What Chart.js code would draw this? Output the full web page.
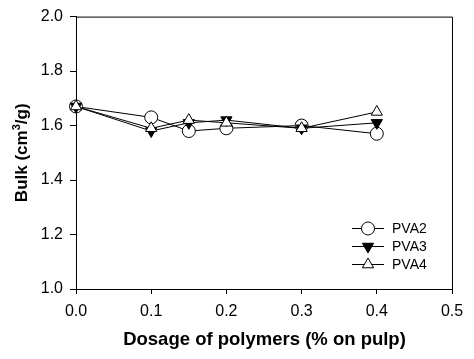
<!DOCTYPE html>
<html>
<head>
<meta charset="utf-8">
<script src="https://cdn.jsdelivr.net/npm/chart.js@4/dist/chart.umd.min.js"></script>
<style>
html,body{margin:0;padding:0;background:#fff;}
#wrap{width:474px;height:359px;}
</style>
</head>
<body>
<div id="wrap"><canvas id="c" width="474" height="359"></canvas></div>
<script>
const dosage = [0, 0.1, 0.15, 0.2, 0.3, 0.4];
const pva2 = [1.67, 1.63, 1.58, 1.59, 1.60, 1.57];
const pva3 = [1.67, 1.58, 1.61, 1.62, 1.59, 1.61];
const pva4 = [1.67, 1.59, 1.62, 1.61, 1.59, 1.65];
const seriesLabels = ['PVA2', 'PVA3', 'PVA4'];
const xTitle = 'Dosage of polymers (% on pulp)';
const yTitleParts = ['Bulk (cm', '3', '/g)'];

const pts = arr => dosage.map((x, i) => ({x: x, y: arr[i]}));
const FONT = 'Arial, "Liberation Sans", sans-serif';

const styles = [
  {pointStyle: 'circle', bg: '#ffffff', rot: 0, r: 6.5},
  {pointStyle: 'triangle', bg: '#000000', rot: 180, r: 6.5},
  {pointStyle: 'triangle', bg: '#ffffff', rot: 0, r: 6.5}
];
const series = [pva2, pva3, pva4];

const datasets = series.map((s, i) => ({
  label: seriesLabels[i],
  data: pts(s),
  showLine: true,
  clip: false,
  borderColor: '#000',
  borderWidth: 1,
  pointStyle: styles[i].pointStyle,
  pointRotation: styles[i].rot,
  pointRadius: styles[i].r,
  pointBackgroundColor: styles[i].bg,
  pointBorderColor: '#000',
  pointBorderWidth: 1,
  order: 3 - i
}));

const framePlugin = {
  id: 'frame',
  beforeDatasetsDraw(chart) {
    const {ctx, chartArea: a} = chart;
    ctx.save();
    ctx.strokeStyle = '#000';
    ctx.lineWidth = 1;
    ctx.beginPath();
    ctx.moveTo(a.left, a.top + 0.5);
    ctx.lineTo(a.right + 0.5, a.top + 0.5);
    ctx.lineTo(a.right + 0.5, a.bottom);
    ctx.stroke();
    ctx.restore();
  }
};

const titlesPlugin = {
  id: 'titles',
  afterDraw(chart) {
    const {ctx, chartArea: a} = chart;
    ctx.save();
    ctx.fillStyle = '#000';
    // x title
    ctx.font = 'bold 18.5px ' + FONT;
    ctx.textAlign = 'center';
    ctx.textBaseline = 'middle';
    ctx.fillText(xTitle, (a.left + a.right) / 2 + 0.5, 340);
    // y title with superscript
    const big = 'bold 17px ' + FONT, small = 'bold 11px ' + FONT;
    ctx.font = big;
    const w1 = ctx.measureText(yTitleParts[0]).width;
    const w3 = ctx.measureText(yTitleParts[2]).width;
    ctx.font = small;
    const w2 = ctx.measureText(yTitleParts[1]).width;
    const total = w1 + w2 + w3;
    ctx.translate(21, (a.top + a.bottom) / 2);
    ctx.rotate(-Math.PI / 2);
    ctx.textAlign = 'left';
    ctx.textBaseline = 'alphabetic';
    let x = -total / 2;
    const base = 6;
    ctx.font = big;
    ctx.fillText(yTitleParts[0], x, base); x += w1;
    ctx.font = small;
    ctx.fillText(yTitleParts[1], x, base - 7); x += w2;
    ctx.font = big;
    ctx.fillText(yTitleParts[2], x, base);
    ctx.restore();
  }
};

const legendPlugin = {
  id: 'innerLegend',
  afterDraw(chart) {
    const {ctx} = chart;
    const x0 = 352, x1 = 384, xm = 368, xt = 392;
    const ys = [228, 246, 264];
    ctx.save();
    chart.data.datasets.forEach((ds, i) => {
      const y = ys[i];
      ctx.strokeStyle = '#000';
      ctx.lineWidth = 1;
      ctx.beginPath();
      ctx.moveTo(x0, y + 0.5);
      ctx.lineTo(x1, y + 0.5);
      ctx.stroke();
      ctx.fillStyle = ds.pointBackgroundColor;
      ctx.strokeStyle = '#000';
      Chart.helpers.drawPoint(ctx, {pointStyle: ds.pointStyle, rotation: ds.pointRotation, radius: ds.pointRadius, borderWidth: 1}, xm, y + 0.5);
      ctx.fillStyle = '#000';
      ctx.font = '14px ' + FONT;
      ctx.textBaseline = 'middle';
      ctx.textAlign = 'left';
      ctx.fillText(ds.label, xt, y + 1);
    });
    ctx.restore();
  }
};

new Chart(document.getElementById('c'), {
  type: 'scatter',
  data: {datasets},
  options: {
    responsive: false,
    animation: false,
    devicePixelRatio: 1,
    layout: {padding: {left: 0, top: 16, right: 22, bottom: 0}},
    plugins: {legend: {display: false}, tooltip: {enabled: false}},
    scales: {
      x: {
        type: 'linear', min: 0, max: 0.5,
        afterFit: s => { s.height = 70; },
        ticks: {stepSize: 0.1, color: '#000', font: {family: FONT, size: 16}, padding: 8,
          callback: v => v.toFixed(1)},
        grid: {drawOnChartArea: false, tickLength: 5, color: '#000'},
        border: {color: '#000', width: 1},
        title: {display: false}
      },
      y: {
        type: 'linear', min: 1.0, max: 2.0,
        afterFit: s => { s.width = 76; },
        ticks: {stepSize: 0.2, color: '#000', font: {family: FONT, size: 16}, padding: 7,
          callback: v => v.toFixed(1)},
        grid: {drawOnChartArea: false, tickLength: 6, color: '#000'},
        border: {color: '#000', width: 1},
        title: {display: false}
      }
    }
  },
  plugins: [framePlugin, titlesPlugin, legendPlugin]
});
</script>
</body>
</html>
